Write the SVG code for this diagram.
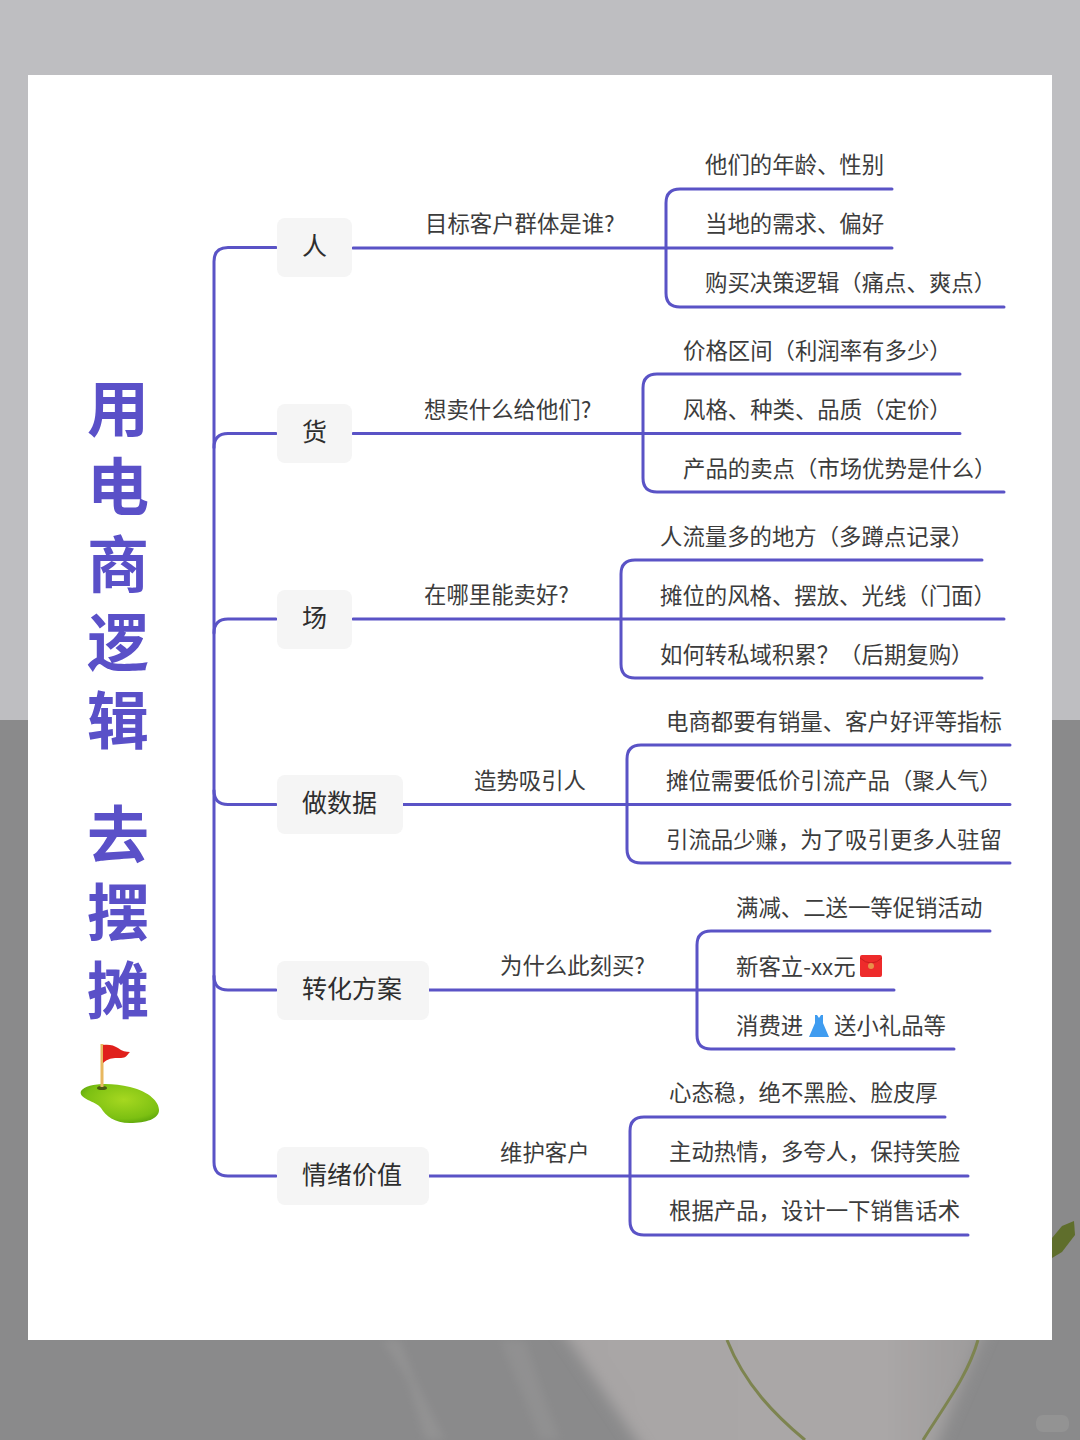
<svg xmlns="http://www.w3.org/2000/svg" width="1080" height="1440" viewBox="0 0 1080 1440">
<style>
.c{fill:none;stroke:#5a53c6;stroke-width:3;stroke-linecap:round}
.n{fill:#f5f5f5}
text{font-family:"Noto Sans CJK SC","Noto Sans",sans-serif;fill:#3c3c3c}
.t{font-size:22.4px}
.m{font-size:25px;fill:#2e2e2e}
.h{font-size:62px;font-weight:700;fill:#5a50c8;text-anchor:middle}
</style>
<defs>
<radialGradient id="g" cx="0.55" cy="0.4" r="0.7"><stop offset="0" stop-color="#a6d820"/><stop offset="0.7" stop-color="#7cc012"/><stop offset="1" stop-color="#4f9a08"/></radialGradient>
<linearGradient id="w" x1="0" y1="0" x2="1" y2="0"><stop offset="0" stop-color="#a8a5a5"/><stop offset="0.75" stop-color="#aaa7a7"/><stop offset="1" stop-color="#9c9a9a"/></linearGradient>
<filter id="b" x="-20%" y="-20%" width="140%" height="140%"><feGaussianBlur stdDeviation="7"/></filter>
<filter id="b2" x="-50%" y="-20%" width="200%" height="140%"><feGaussianBlur stdDeviation="4"/></filter>
<clipPath id="lower"><rect y="1340" width="1080" height="100"/></clipPath>
</defs>
<g id="background">
<rect width="1080" height="720" fill="#bebec1"/>
<rect y="720" width="1080" height="720" fill="#8a8a8b"/>
<g clip-path="url(#lower)">
<path d="M555 1320H990L930 1460H650Z" fill="url(#w)" filter="url(#b)"/>
<path d="M382 1340L408 1380L425 1440H445L415 1380L400 1340Z" fill="#9d9c9c" opacity="0.45" filter="url(#b2)"/>
<path d="M500 1340L525 1400L540 1440H560L545 1400L525 1340Z" fill="#9d9c9c" opacity="0.35" filter="url(#b2)"/>
</g>
<path d="M727 1340C745 1385 775 1415 805 1440M978 1340C968 1375 945 1405 923 1440" fill="none" stroke="#7d8450" stroke-width="3"/>
<path d="M1052 1238L1062 1226L1074 1221L1075 1235L1062 1252L1052 1258Z" fill="#5f6e2c"/>
<rect x="1036" y="1415" width="33" height="17" rx="7" fill="#979797" opacity="0.7"/>
<rect x="28" y="75" width="1024" height="1265" fill="#ffffff"/>
</g>
<g id="title">
<text class="h"><tspan x="118" y="432">用</tspan><tspan x="118" y="510">电</tspan><tspan x="118" y="588">商</tspan><tspan x="118" y="666">逻</tspan><tspan x="118" y="744">辑</tspan><tspan x="118" y="858">去</tspan><tspan x="118" y="936">摆</tspan><tspan x="118" y="1014">摊</tspan></text>
</g>
<g id="golf-icon">
<path d="M81 1091C86 1083 110 1082 130 1087C150 1092 159 1102 159 1110C159 1119 146 1123 130 1123C114 1123 106 1116 101 1108C96 1101 78 1099 81 1091Z" fill="url(#g)"/>
<ellipse cx="102" cy="1088" rx="5" ry="2" fill="#4a5a10"/>
<rect x="100.500" y="1044" width="3" height="43" fill="#e8b860"/>
<path d="M103 1045C108 1044 114 1045 118 1048C122 1051 126 1052 130 1052C127 1055 126 1058 121 1058C115 1058 110 1057 103 1063Z" fill="#e0201c"/>
</g>
<g id="connectors">
<path class="c" d="M276 247.500H228Q214 247.500 214 261.500V1162Q214 1176 228 1176H276"/>
<path class="c" d="M276 433.500H228Q214 433.500 214 447.500M276 619H228Q214 619 214 633M276 804.500H228Q214 804.500 214 790.500M276 990H228Q214 990 214 976"/>
<path class="c" d="M353 248H892M892 189H680Q666 189 666 203V293Q666 307 680 307H1004"/>
<path class="c" d="M353 433.500H960M960 374H657Q643 374 643 388V478Q643 492 657 492H1004"/>
<path class="c" d="M353 619H1004M982 560H635Q621 560 621 574V664Q621 678 635 678H982"/>
<path class="c" d="M403 804.500H1010M1010 745H641Q627 745 627 759V849Q627 863 641 863H1010"/>
<path class="c" d="M429 990H894M990 931H711Q697 931 697 945V1035Q697 1049 711 1049H954"/>
<path class="c" d="M429 1176H968M945 1117H644Q630 1117 630 1131V1221Q630 1235 644 1235H968"/>
</g>
<g id="node-ren">
<rect class="n" x="277" y="218" width="75" height="59" rx="8"/>
<text class="m" x="302" y="255">人</text>
<text class="t" x="425" y="232">目标客户群体是谁?</text>
<text class="t" x="705" y="173">他们的年龄、性别</text>
<text class="t" x="705" y="232">当地的需求、偏好</text>
<text class="t" x="705" y="291">购买决策逻辑（痛点、爽点）</text>
</g>
<g id="node-huo">
<rect class="n" x="277" y="404" width="75" height="59" rx="8"/>
<text class="m" x="302" y="441">货</text>
<text class="t" x="424" y="418">想卖什么给他们?</text>
<text class="t" x="683" y="359">价格区间（利润率有多少）</text>
<text class="t" x="683" y="418">风格、种类、品质（定价）</text>
<text class="t" x="683" y="477">产品的卖点（市场优势是什么）</text>
</g>
<g id="node-chang">
<rect class="n" x="277" y="590" width="75" height="59" rx="8"/>
<text class="m" x="302" y="627">场</text>
<text class="t" x="424" y="603">在哪里能卖好?</text>
<text class="t" x="660" y="545">人流量多的地方（多蹲点记录）</text>
<text class="t" x="660" y="604">摊位的风格、摆放、光线（门面）</text>
<text class="t" x="660" y="663">如何转私域积累？（后期复购）</text>
</g>
<g id="node-shuju">
<rect class="n" x="277" y="775" width="126" height="59" rx="8"/>
<text class="m" x="302" y="812">做数据</text>
<text class="t" x="474" y="789">造势吸引人</text>
<text class="t" x="666" y="730">电商都要有销量、客户好评等指标</text>
<text class="t" x="666" y="789">摊位需要低价引流产品（聚人气）</text>
<text class="t" x="666" y="848">引流品少赚，为了吸引更多人驻留</text>
</g>
<g id="node-zhuanhua">
<rect class="n" x="277" y="961" width="152" height="59" rx="8"/>
<text class="m" x="302" y="998">转化方案</text>
<text class="t" x="500" y="974">为什么此刻买?</text>
<text class="t" x="736" y="916">满减、二送一等促销活动</text>
<text class="t" x="736" y="975">新客立-xx元</text>
<rect x="860" y="955" width="22" height="22" rx="2" fill="#ee2b2b"/>
<path d="M860 958Q871 968 882 958" fill="none" stroke="#c81e1e" stroke-width="1"/>
<circle cx="871" cy="966" r="3" fill="#e8904a"/>
<text class="t" x="736" y="1034">消费进</text>
<path d="M815 1015H817L819 1018L821 1015H823L823 1023L829 1037H809L815 1023Z" fill="#3f9cf0"/>
<text class="t" x="834" y="1034">送小礼品等</text>
</g>
<g id="node-qingxu">
<rect class="n" x="277" y="1147" width="152" height="58" rx="8"/>
<text class="m" x="302" y="1184">情绪价值</text>
<text class="t" x="500" y="1161">维护客户</text>
<text class="t" x="669" y="1101">心态稳，绝不黑脸、脸皮厚</text>
<text class="t" x="669" y="1160">主动热情，多夸人，保持笑脸</text>
<text class="t" x="669" y="1219">根据产品，设计一下销售话术</text>
</g>
</svg>
